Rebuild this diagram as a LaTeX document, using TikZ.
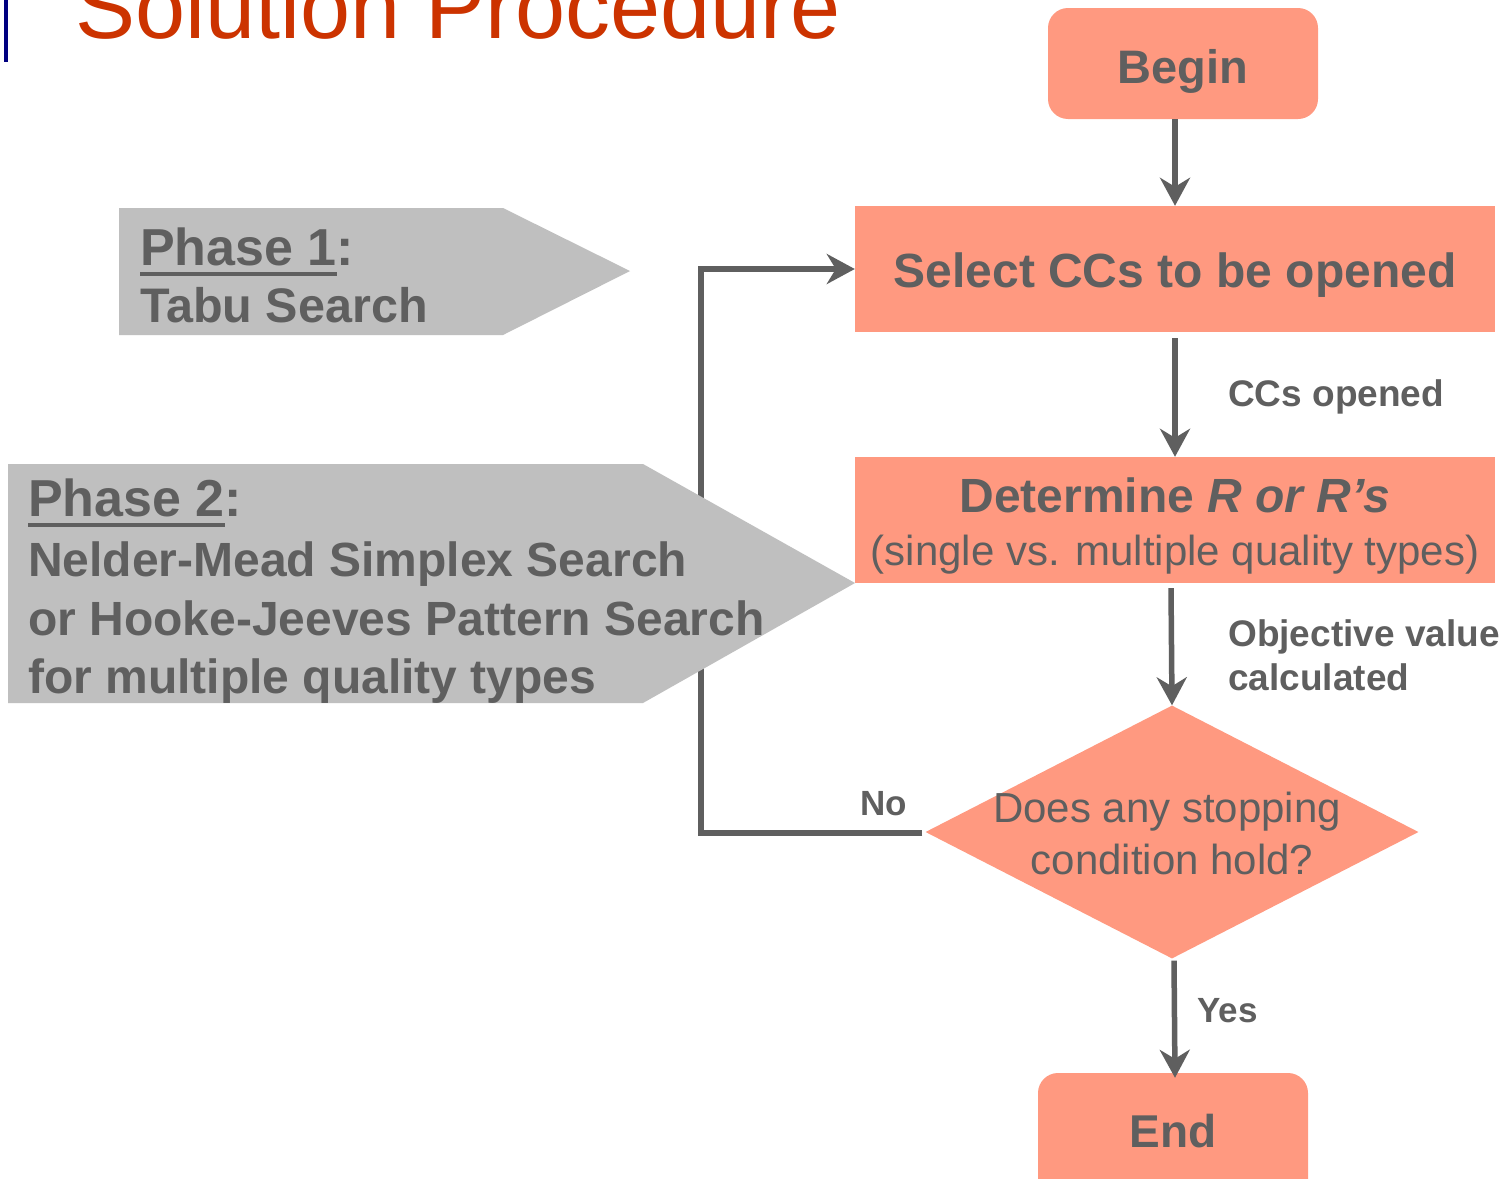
\documentclass[tikz,border=0pt]{standalone}
\usepackage{fontspec}
\setmainfont{Liberation Sans}
\usetikzlibrary{arrows.meta,shapes.geometric}
\definecolor{salmon}{RGB}{255,153,128}
\definecolor{txtgray}{RGB}{95,95,95}
\definecolor{phgray}{RGB}{191,191,191}
\definecolor{titlered}{RGB}{204,51,0}
\definecolor{navybar}{RGB}{0,0,128}
\newcommand\ulbox[1]{\setbox0\hbox{#1}\rlap{\rule[-11pt]{\wd0}{4pt}}\box0}
\newcommand\fs[1]{\fontsize{#1}{#1}\selectfont}
\tikzset{
  box/.style={fill=salmon, draw=none, inner sep=0pt},
  rbox/.style={box, rounded corners=20pt},
  txt/.style={text=txtgray, inner sep=0pt, anchor=base},
  ltxt/.style={text=txtgray, inner sep=0pt, anchor=base west},
  flow/.style={draw=txtgray, line width=5.5pt, line join=miter,
    -{Stealth[length=28pt,width=30pt,inset=9pt]}},
  pent/.style={fill=phgray, draw=none}
}
\begin{document}
\begin{tikzpicture}[x=1pt,y=-1pt]
\useasboundingbox (0,0) rectangle (1503,1178);
\clip (0,0) rectangle (1503,1178);
\fill[white] (0,0) rectangle (1503,1178);
% title
\fill[navybar] (4,0) rectangle (8,62);
\node[anchor=base west, inner sep=0pt, text=titlered] (title) at (75,38) {\fs{90}Solution Procedure};
% flow nodes
\node[rbox, minimum width=270pt, minimum height=111pt] (begin) at (1183,63.5) {};
\node[txt] (begintxt) at (1183,83) {\fs{47}\bfseries Begin};
\node[box, minimum width=640pt, minimum height=126pt] (sel) at (1175,269) {};
\node[txt] (seltxt) at (1175,287) {\fs{48}\bfseries Select CCs to be opened};
\node[box, minimum width=640pt, minimum height=126pt] (det) at (1175,520) {};
\node[txt] (dettxt1) at (1175,512) {\fs{48}\bfseries Determine \textit{R or R’s}};
\node[txt] (dettxt2) at (1175,565) {\fs{42}(single vs. multiple quality types)};
\node[diamond, box, minimum width=493pt, minimum height=253pt] (dia) at (1172,832) {};
\node[txt] (diatxt1) at (1167,822) {\fs{42}Does any stopping};
\node[txt] (diatxt2) at (1172,874) {\fs{42}condition hold?};
\node[rbox, minimum width=270pt, minimum height=140pt] (end) at (1173,1143) {};
\node[txt] (endtxt) at (1173,1147) {\fs{46}\bfseries End};
% loop connector (behind phase shapes)
\coordinate (loopc) at (701,833);
\draw[flow] ([xshift=-3pt,yshift=-1pt]dia.west) -- (loopc) |- (sel.west);
% phase shapes
\fill[pent] (119,208) -- (503,208) -- (630,271) -- (503,335) -- (119,335) -- cycle;
\fill[pent] (8,464) -- (643,464) -- (855,583) -- (643,703) -- (8,703) -- cycle;
\node[ltxt] (ph1a) at (140,265) {\fs{52}\bfseries\ulbox{Phase 1}:};
\node[ltxt] (ph1b) at (140,322) {\fs{48.5}\bfseries Tabu Search};
\node[ltxt] (ph2a) at (28,516) {\fs{52}\bfseries\ulbox{Phase 2}:};
\node[ltxt] (ph2b) at (28,576) {\fs{48}\bfseries Nelder-Mead Simplex Search};
\node[ltxt] (ph2c) at (28,635) {\fs{48}\bfseries or Hooke-Jeeves Pattern Search};
\node[ltxt] (ph2d) at (28,693) {\fs{48}\bfseries for multiple quality types};
% connectors
\draw[flow] (begin.south -| sel.north) -- (sel.north);
\draw[flow] ([yshift=-6pt]sel.south) -- (det.north);
\draw[flow] ([xshift=-4pt,yshift=-5pt]det.south) -- (dia.north);
\draw[flow] ([xshift=2pt,yshift=-2pt]dia.south) -- ([xshift=2pt,yshift=-5pt]end.north);
% labels
\node[ltxt] (lab1) at (1228,406) {\fs{37}\bfseries CCs opened};
\node[ltxt] (lab2) at (1228,646) {\fs{37}\bfseries Objective value};
\node[ltxt] (lab3) at (1228,690) {\fs{37}\bfseries calculated};
\node[ltxt] (labno) at (860,815) {\fs{35}\bfseries No};
\node[ltxt] (labyes) at (1197,1022) {\fs{35}\bfseries Yes};
\end{tikzpicture}
\end{document}
